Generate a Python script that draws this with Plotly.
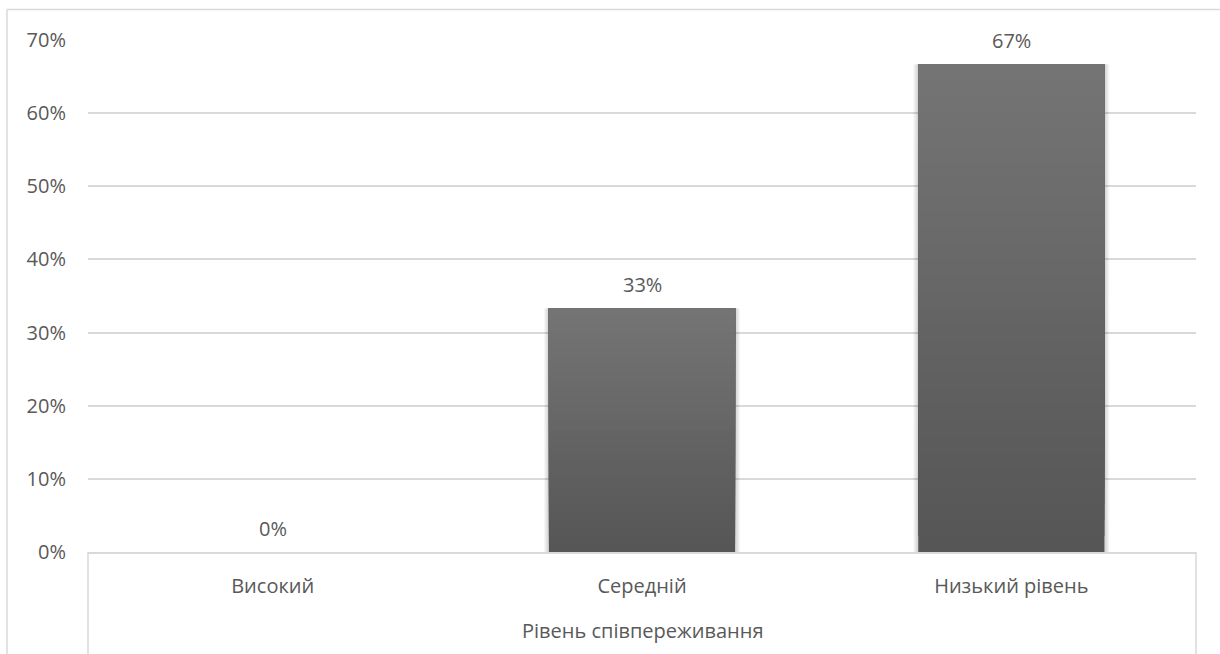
import plotly.graph_objects as go

# Empathy level distribution
categories = ["Високий", "Середній", "Низький рівень"]
shares = [0.0, 0.3333, 0.6667]
value_labels = ["0%", "33%", "67%"]
axis_title = "Рівень співпереживання"
y_ticks = [0, 0.1, 0.2, 0.3, 0.4, 0.5, 0.6, 0.7]

FONT = "Open Sans"
TEXT = "#595959"
GRID = "#d9d9d9"

BAR_WIDTH = 0.504          # fraction of a category slot
PX = 1 / 369.3             # one screen pixel in category units

# vertical gradient: successive bars start higher up and overpaint the lower ones
N_SLICES = 30
BOTTOM_RGB = (0x55, 0x55, 0x55)
TOP_RGB = (0x75, 0x75, 0x75)


def blend(t):
    r, g, b = (round(a + (c - a) * t) for a, c in zip(BOTTOM_RGB, TOP_RGB))
    return f"rgb({r},{g},{b})"


fig = go.Figure()

# soft shadow: a few translucent, slightly wider bars behind each bar
for s in range(1, 6):
    fig.add_trace(go.Bar(
        x=categories,
        y=shares,
        width=BAR_WIDTH + 2 * s * PX,
        marker=dict(color="rgba(0,0,0,0.035)", line=dict(width=0)),
        showlegend=False,
        hoverinfo="skip",
    ))

for k in range(N_SLICES):
    fig.add_trace(go.Bar(
        x=categories,
        y=[v * (N_SLICES - k) / N_SLICES for v in shares],
        base=[v * k / N_SLICES for v in shares],
        width=BAR_WIDTH,
        marker=dict(color=blend((k + 0.5) / N_SLICES), line=dict(width=0)),
        showlegend=False,
        hoverinfo="skip",
    ))

# value labels above the bars
for cat, v, lab in zip(categories, shares, value_labels):
    fig.add_annotation(
        x=cat, y=v, text=lab, showarrow=False,
        yanchor="middle", yshift=24,
        font=dict(family=FONT, size=20, color=TEXT),
    )

# axis title below category labels
fig.add_annotation(
    x=0.5, y=-0.153, xref="paper", yref="paper", text=axis_title,
    showarrow=False, yanchor="middle",
    font=dict(family=FONT, size=20, color=TEXT),
)

shapes = [
    # category axis boundaries extending down
    dict(type="line", xref="paper", yref="paper", x0=0, x1=0, y0=0, y1=-0.21,
         line=dict(color=GRID, width=1.5)),
    dict(type="line", xref="paper", yref="paper", x0=1, x1=1, y0=0, y1=-0.21,
         line=dict(color=GRID, width=1.5)),
    # chart frame
    dict(type="line", xref="paper", yref="paper", x0=-0.0731, x1=-0.0731, y0=1.0596, y1=-0.21,
         line=dict(color=GRID, width=1.5)),
    dict(type="line", xref="paper", yref="paper", x0=-0.0731, x1=1.03, y0=1.0596, y1=1.0596,
         line=dict(color=GRID, width=1.5)),
]

fig.update_layout(
    width=1220, height=654,
    margin=dict(l=88, r=24, t=40, b=102),
    paper_bgcolor="white", plot_bgcolor="white",
    barmode="overlay",
    shapes=shapes,
    font=dict(family=FONT, size=20, color=TEXT),
)
fig.update_xaxes(
    showline=True, linecolor=GRID, linewidth=1.5,
    showgrid=False, ticks="", ticklabelstandoff=15,
    tickfont=dict(family=FONT, size=20, color=TEXT),
)
fig.update_yaxes(
    range=[0, 0.7], tickvals=y_ticks, tickformat=".0%",
    showgrid=True, gridcolor=GRID, gridwidth=1.5, zeroline=False,
    showline=False, ticks="", ticklabelstandoff=21,
    tickfont=dict(family=FONT, size=20, color=TEXT),
)

fig.write_html("out.html")
